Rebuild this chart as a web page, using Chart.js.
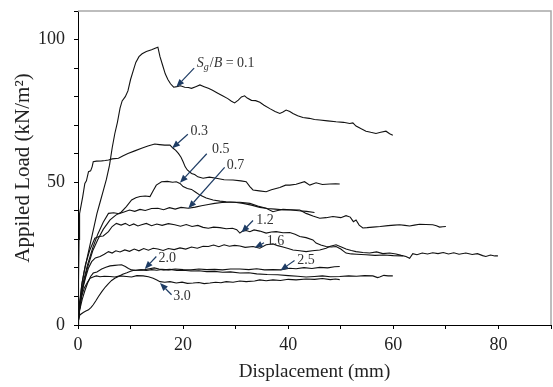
<!DOCTYPE html>
<html>
<head>
<meta charset="utf-8">
<script src="https://cdn.jsdelivr.net/npm/chart.js@4"></script>
<style>
html,body{margin:0;padding:0;background:#fff;}
canvas{display:block;}
</style>
</head>
<body>
<canvas id="c" width="553" height="387"></canvas>
<script>
// ---- data: [displacement (mm), applied load (kN/m2)] ----
const s01 = [[0,0],[0.3,6],[0.7,14],[1.2,19],[1.8,24],[2.4,29],[3.0,34],[3.6,39],[4.2,43],[4.8,47],[5.4,51],[6.0,56],[6.5,62],[7.0,67],[7.5,71],[8.0,76],[8.4,78.5],[9.0,80],[9.5,82],[10.0,86],[10.5,89],[11.0,92],[11.6,94],[12.2,95],[13.0,95.8],[14.0,96.4],[14.8,97],[15.2,97.3],[15.6,94],[16.1,91],[16.6,88],[17.1,86],[17.6,84.5],[18.2,83.3],[18.8,83.5],[19.5,83.8],[20.3,83.3],[21.0,83.2],[21.6,82.9],[22.4,83.5],[23.2,84.1],[24.0,83.5],[24.8,82.9],[25.6,82.2],[26.6,81.2],[27.5,80.3],[28.5,79.3],[29.2,78.4],[29.8,77.8],[30.5,78.8],[31.1,79.9],[31.7,80.3],[32.2,79.5],[33.0,78.7],[33.8,78.6],[34.6,78.0],[35.4,77.0],[36.5,75.8],[37.5,74.8],[38.4,74.1],[39.0,74.6],[39.6,75.3],[40.3,74.8],[40.9,74.1],[41.8,73.3],[42.8,72.7],[44.0,72.4],[45.0,72.0],[46.0,71.8],[47.5,71.5],[49.1,71.2],[50.5,71.0],[51.7,70.6],[52.3,70.8],[52.9,69.7],[53.8,68.8],[54.8,67.9],[55.7,67.5],[56.7,67.1],[57.6,67.5],[58.6,67.9],[59.3,67.0],[59.9,66.5]];
const s03 = [[0,0],[0.1,15],[0.2,30],[0.3,39],[0.6,42],[0.9,45],[1.3,49.6],[1.6,50.5],[2.0,53.7],[2.4,54],[2.7,55.5],[2.9,57.2],[3.5,57.4],[4.5,57.5],[5.2,57.6],[5.8,57.8],[6.5,58.2],[7.7,58.4],[8.6,59.3],[9.5,60.1],[10.8,61],[12.1,61.9],[13.3,62.7],[14.6,63.4],[15.5,63.2],[16.5,63.0],[17.5,63.0],[18.1,61.9],[18.6,61.2],[19.1,60.1],[19.6,58.8],[20.0,57.2],[20.4,55.4],[20.8,54.3],[21.6,53.1],[22.2,52.7],[22.8,51.9],[23.8,51.4],[25.0,51.8],[26.3,51.4],[27.8,50.9],[29.5,50.8],[31.0,50.5],[32.0,50.2],[32.7,48.5],[33.3,47.3],[34.5,47.0],[35.8,46.7],[36.8,47.4],[38.4,48.2],[39.5,49.0],[40.3,49.0],[41.5,49.3],[43.1,50.2],[44.1,49.0],[45.3,49.8],[46.5,49.2],[47.9,49.4],[49.0,49.5],[49.8,49.4]];
const s05 = [[0,0],[0.4,7],[1.0,14],[1.8,20],[2.8,26],[3.8,30],[4.8,33.5],[6.1,36.8],[7.2,38.5],[8.2,39.5],[9.2,41.5],[10.2,43.8],[11.0,44.6],[11.8,45.0],[12.8,45.2],[13.7,45.0],[14.3,47.0],[14.9,49.0],[15.9,50.2],[17.0,50.3],[18.0,50.0],[18.7,50.2],[19.4,49.6],[20.0,48.5],[20.8,47.8],[21.6,47.5],[22.4,46.5],[23.2,45.5],[24.4,44.5],[25.7,43.8],[27.0,43.4],[28.2,43.2],[29.8,43.0],[31.4,42.6],[33.0,42.0],[34.6,41.2],[36.0,40.8],[37.5,40.6],[39.0,40.4],[40.5,40.3],[42.0,40.0],[43.5,39.8],[45.0,39.4]];
const s07 = [[0,0],[0.4,8],[1.0,15],[1.8,21],[2.8,27],[3.8,32],[4.8,36],[5.8,39.1],[6.8,39.3],[7.8,39.0],[8.9,39.7],[9.8,40.3],[10.8,39.8],[11.8,40.5],[12.8,40.1],[14.0,40.8],[15.2,40.9],[16.3,40.4],[17.4,41.1],[18.5,40.6],[19.6,41.2],[21.0,40.9],[22.3,41.3],[23.5,41.8],[24.8,42.2],[26.0,42.6],[27.4,42.9],[28.8,43.0],[30.8,43.0],[32.7,42.6],[34.2,41.7],[35.8,40.9],[37.1,39.7],[38.0,40.1],[39.0,40.5],[40.5,40.4],[42.2,40.3],[43.4,39.1],[44.7,38.2],[46.0,37.4],[47.2,37.6],[48.5,38.0],[50.0,37.6],[51.0,38.3],[51.8,37.8],[52.4,36.2],[52.9,36.8],[53.5,35.0],[54.2,34.0],[55.0,34.1],[56.1,34.3],[57.5,34.5],[59.0,34.8],[60.2,35.0],[61.2,35.1],[62.2,34.9],[63.1,34.7],[64.0,35.0],[65.0,35.3],[66.2,35.2],[67.5,35.1],[68.2,34.8],[68.8,34.3],[69.4,34.4],[70.0,34.5]];
const s12 = [[0,0],[0.3,8],[0.8,15],[1.4,21],[2.2,26],[3.2,30.4],[4.0,31],[4.8,31.2],[5.8,32.7],[6.5,34.5],[7.3,35.6],[8.2,35.0],[9.0,35.6],[9.8,34.8],[10.6,35.4],[11.4,34.7],[12.1,35.1],[13.0,35.6],[14.0,34.8],[15.0,35.4],[16.0,34.9],[17.2,35.5],[18.4,35.1],[19.5,34.6],[20.6,35.2],[21.7,34.5],[22.8,34.9],[23.8,34.2],[24.8,33.9],[25.8,34.3],[27.0,34.1],[28.2,33.7],[29.4,33.9],[30.2,33.4],[30.8,32.2],[31.3,32.9],[32.0,33.1],[32.7,32.7],[33.5,33.3],[34.6,32.9],[35.8,32.2],[36.8,32.6],[37.7,32.7],[39.0,32.3],[40.3,32.4],[41.3,31.8],[42.2,31.0],[43.4,30.6],[44.7,29.8],[45.3,28.7],[46.2,28.0],[47.2,27.5],[48.2,27.3],[49.1,27.5],[50.0,26.6],[51.0,25.2],[52.0,24.9],[53.0,24.8],[54.8,24.6],[56.5,24.4],[58.3,24.5],[60.0,24.3],[61.8,24.2]];
const s16 = [[0,0],[0.3,6],[0.8,12],[1.5,17],[2.0,20],[2.6,22.2],[3.3,23.5],[4.2,24.0],[5.0,24.8],[5.8,25.7],[6.5,25.2],[7.2,26.0],[8.0,25.6],[8.9,26.3],[9.8,25.8],[10.7,26.6],[11.6,26.0],[12.5,26.8],[13.4,26.2],[14.3,26.9],[15.2,26.6],[16.2,26.1],[17.2,26.8],[18.3,26.4],[19.4,27.0],[20.5,26.6],[21.6,27.3],[22.7,26.9],[23.8,27.6],[24.8,27.5],[25.8,28.0],[26.8,27.4],[27.8,28.1],[28.8,27.6],[29.8,27.9],[30.8,27.7],[31.8,27.2],[33.3,27.5],[34.6,26.9],[35.8,28.1],[37.1,28.4],[38.0,27.8],[39.0,27.3],[40.0,26.8],[40.9,26.3],[42.2,26.0],[43.4,25.7],[44.6,26.0],[46.0,26.3],[47.2,26.9],[48.0,27.6],[49.1,28.1],[50.0,27.4],[51.0,26.6],[52.0,26.1],[52.9,25.7],[54.2,25.4],[55.5,25.2],[56.8,25.6],[58.0,25.0],[59.3,25.2],[60.5,24.9],[61.5,24.4],[62.4,24.0],[63.1,23.4],[63.7,25.0],[64.5,24.6],[65.5,25.2],[66.5,24.9],[67.5,25.3],[68.5,25.0],[69.5,25.4],[70.5,24.9],[71.5,25.3],[72.5,24.8],[73.8,25.2],[75.0,24.7],[76.0,25.0],[77.0,24.3],[77.6,24.0],[78.5,24.5],[79.3,24.2],[79.9,24.2]];
const s20 = [[0,0],[0.3,5],[0.8,9],[1.3,12],[1.9,15],[2.4,17],[2.9,18.2],[3.6,18.6],[4.5,19.6],[5.3,20.2],[6.1,20.7],[7.0,20.9],[7.7,21.0],[8.3,21.1],[9.0,20.5],[9.6,19.8],[10.2,19.3],[11.0,19.2],[11.8,19.3],[12.7,19.4],[13.6,19.7],[14.5,20.0],[15.4,19.6],[16.3,19.3],[17.5,19.5],[18.8,19.1],[20.0,19.2],[21.5,18.9],[23.0,19.0],[24.5,18.7],[26.0,18.8],[27.5,18.5],[29.0,18.6],[30.8,18.2],[32.5,18.3],[34.0,17.9],[36.0,17.7],[38.0,17.6],[40.0,17.3],[41.8,17.1],[43.4,16.8],[45.0,17.0],[46.5,17.2],[48.0,16.9],[49.8,17.0],[51.5,17.2],[53.0,17.1],[54.5,17.3],[56.1,17.2],[57.0,16.6],[57.4,16.8],[58.2,17.4],[59.0,17.2],[59.9,17.2]];
const s25 = [[0,0],[0.1,2.5],[0.4,3.6],[1.0,4.4],[1.5,4.9],[2.0,5.3],[2.5,6.2],[2.9,7.1],[3.4,8.5],[3.9,10.0],[4.5,11.6],[5.2,13.3],[5.8,14.5],[6.4,15.6],[7.0,16.4],[7.7,17.0],[8.5,17.8],[9.3,18.3],[10.0,18.8],[10.5,19.1],[11.3,19.2],[12.1,19.3],[13.0,19.1],[14.0,19.4],[15.0,19.2],[16.0,19.5],[17.2,19.3],[18.5,19.6],[20.0,19.4],[21.5,19.3],[23.0,19.6],[24.5,19.4],[26.0,19.5],[27.5,19.3],[29.0,19.6],[30.8,19.6],[32.5,19.4],[34.0,19.7],[35.5,19.3],[37.1,19.4],[38.5,19.3],[40.3,19.9],[41.5,19.7],[43.0,20.1],[44.5,19.8],[46.0,20.2],[47.5,20.0],[48.8,20.4],[49.8,20.5]];
const s30 = [[0,0],[0.3,6],[0.7,10],[1.2,13],[1.8,15],[2.3,16.4],[3.0,16.9],[3.5,17.2],[4.2,16.9],[5.0,17.1],[6.1,17.0],[7.0,16.8],[8.0,17.2],[9.2,17.0],[10.2,16.8],[11.2,17.3],[12.4,17.2],[13.4,16.9],[14.3,16.4],[15.0,15.8],[15.6,15.2],[16.5,15.0],[17.5,15.2],[18.7,14.7],[19.8,15.0],[20.8,14.6],[21.9,14.7],[23.0,14.9],[24.0,14.5],[25.1,14.7],[26.2,15.0],[27.2,14.8],[28.2,15.2],[29.5,15.0],[30.8,15.4],[32.0,15.2],[33.6,15.4],[34.6,15.8],[35.8,15.5],[37.1,15.8],[38.5,15.6],[40.0,16.0],[41.5,15.8],[43.4,16.1],[45.0,16.0],[46.5,16.3],[48.0,15.9],[49.0,16.1],[49.8,15.9]];

const seriesNames = ['0.1','0.3','0.5','0.7','1.2','1.6','2.0','2.5','3.0'];
const seriesData = [s01,s03,s05,s07,s12,s16,s20,s25,s30];
const xTickLabels = [0,20,40,60,80];
const yTickLabels = [0,50,100];

// annotation labels (data units): text anchor, arrow tail, arrow tip
const notes = [
  {t:'Sg/B = 0.1', at:[22.6,91.6], from:[22.1,90.0], to:[18.7,83.4]},
  {t:'0.3', at:[21.4,67.7], from:[20.9,66.8], to:[17.9,61.9]},
  {t:'0.5', at:[25.5,61.5], from:[24.5,60.0], to:[19.4,49.8]},
  {t:'0.7', at:[28.3,56.0], from:[27.9,55.2], to:[21.0,40.9]},
  {t:'1.2', at:[33.9,36.8], from:[33.3,36.6], to:[31.1,32.4]},
  {t:'1.6', at:[35.9,29.2], from:[35.4,28.8], to:[33.6,27.1]},
  {t:'2.0', at:[15.3,23.4], from:[14.9,24.0], to:[12.7,19.6]},
  {t:'2.5', at:[41.7,22.6], from:[41.2,22.6], to:[38.5,19.1]},
  {t:'3.0', at:[18.1,10.0], from:[17.8,10.6], to:[15.6,14.7]}
];

const SERIF = '"Liberation Serif", "Times New Roman", serif';
const ARROW = '#1e3c64';
const LABEL = '#333333';

const framePlugin = {
  id:'frame',
  afterDraw(chart){
    const {ctx, chartArea:a} = chart;
    ctx.save();
    ctx.strokeStyle = '#a8a8a8';
    ctx.lineWidth = 1.5;
    ctx.beginPath();
    ctx.moveTo(a.left, a.top); ctx.lineTo(a.right, a.top); ctx.lineTo(a.right, a.bottom);
    ctx.stroke();
    ctx.restore();
  }
};

const notesPlugin = {
  id:'notes',
  afterDatasetsDraw(chart){
    const {ctx, scales:{x,y}} = chart;
    ctx.save();
    notes.forEach(n=>{
      const x0 = x.getPixelForValue(n.from[0]), y0 = y.getPixelForValue(n.from[1]);
      const x1 = x.getPixelForValue(n.to[0]),   y1 = y.getPixelForValue(n.to[1]);
      const ang = Math.atan2(y1-y0, x1-x0);
      const hl = 8, hw = 3.2;
      const bx = x1 - hl*Math.cos(ang), by = y1 - hl*Math.sin(ang);
      ctx.strokeStyle = ARROW; ctx.fillStyle = ARROW; ctx.lineWidth = 1.2;
      ctx.beginPath(); ctx.moveTo(x0,y0); ctx.lineTo(bx,by); ctx.stroke();
      ctx.beginPath();
      ctx.moveTo(x1,y1);
      ctx.lineTo(bx + hw*Math.sin(ang), by - hw*Math.cos(ang));
      ctx.lineTo(bx - hw*Math.sin(ang), by + hw*Math.cos(ang));
      ctx.closePath(); ctx.fill();

      const tx = x.getPixelForValue(n.at[0]), ty = y.getPixelForValue(n.at[1]);
      ctx.fillStyle = LABEL; ctx.textBaseline = 'middle'; ctx.textAlign = 'left';
      if (n.t.startsWith('Sg')) {
        let cx = tx;
        ctx.font = 'italic 14px ' + SERIF; ctx.fillText('S', cx, ty); cx += ctx.measureText('S').width;
        ctx.font = 'italic 10px ' + SERIF; ctx.fillText('g', cx, ty+4); cx += ctx.measureText('g').width + 1;
        ctx.font = '14px ' + SERIF; ctx.fillText('/', cx, ty); cx += ctx.measureText('/').width;
        ctx.font = 'italic 14px ' + SERIF; ctx.fillText('B', cx, ty); cx += ctx.measureText('B').width;
        ctx.font = '14px ' + SERIF; ctx.fillText(' = 0.1', cx, ty);
      } else {
        ctx.font = '14px ' + SERIF;
        ctx.fillText(n.t, tx, ty);
      }
    });
    ctx.restore();
  }
};

const datasets = seriesData.map((d,i)=>({
  label: seriesNames[i],
  data: d.map(p=>({x:p[0], y:p[1]})),
  borderColor:'#111',
  borderWidth:1.1,
  pointRadius:0,
  fill:false,
  tension:0
}));

new Chart(document.getElementById('c'), {
  type:'line',
  data:{datasets},
  options:{
    responsive:false,
    animation:false,
    layout:{padding:{top:11,right:2,left:0,bottom:0}},
    plugins:{legend:{display:false}, tooltip:{enabled:false}},
    scales:{
      x:{
        type:'linear', min:0, max:90,
        ticks:{stepSize:10, autoSkip:false, maxRotation:0,
          callback:v=> xTickLabels.includes(v) ? String(v) : '',
          font:{family:SERIF, size:18}, color:'#222', padding:5},
        grid:{drawOnChartArea:false, drawTicks:true, tickLength:4, color:'#000', lineWidth:1},
        border:{display:true, color:'#000', width:1},
        title:{display:true, text:'Displacement (mm)', font:{family:SERIF, size:19}, color:'#222', padding:{top:0,bottom:4}},
        afterFit(s){ s.height = 62; s.paddingLeft = 0; s.paddingRight = 0; }
      },
      y:{
        type:'linear', min:0, max:110,
        ticks:{stepSize:10, autoSkip:false,
          callback:v=> yTickLabels.includes(v) ? String(v) : '',
          font:{family:SERIF, size:18}, color:'#222', padding:9},
        grid:{drawOnChartArea:false, drawTicks:true, tickLength:4, color:'#000', lineWidth:1},
        border:{display:true, color:'#000', width:1},
        title:{display:true, text:'Appiled Load (kN/m²)', font:{family:SERIF, size:21}, color:'#222', padding:{top:11,bottom:0}},
        afterFit(s){ s.width = 78; s.paddingTop = 0; s.paddingBottom = 0; }
      }
    }
  },
  plugins:[framePlugin, notesPlugin]
});
</script>
</body>
</html>
